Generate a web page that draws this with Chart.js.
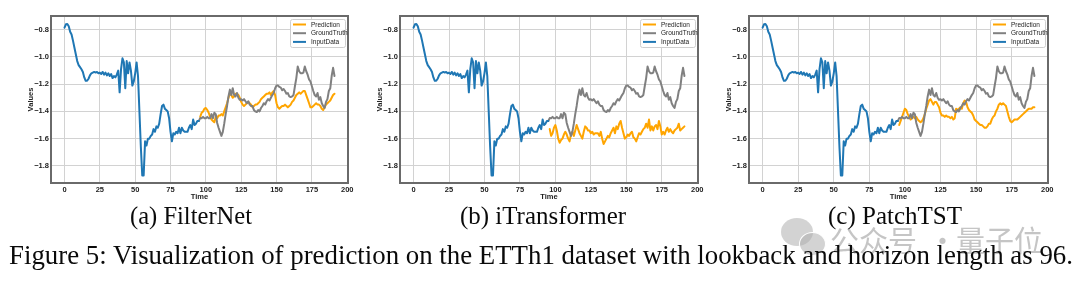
<!DOCTYPE html>
<html><head><meta charset="utf-8">
<script src="https://cdn.jsdelivr.net/npm/chart.js@4.4.1/dist/chart.umd.min.js"></script>
<style>
html,body{margin:0;padding:0;background:#fff;width:1080px;height:284px;overflow:hidden}
body{position:relative}
.pan{position:absolute;top:0}
.cap{position:absolute;left:0;top:0;font-family:"Liberation Serif","Times New Roman",serif;color:#0a0a0a;white-space:nowrap;transform-origin:0 0;line-height:1}
.wm{position:absolute;font-family:"Noto Sans CJK SC",sans-serif;color:rgba(140,140,140,0.5);line-height:1;white-space:nowrap}
.bub{position:absolute;border-radius:50%;background:rgba(175,175,175,0.55)}
</style></head><body>
<canvas id="c1" class="pan"></canvas>
<canvas id="c2" class="pan"></canvas>
<canvas id="c3" class="pan"></canvas>
<div class="bub" style="left:781px;top:218px;width:32px;height:28px"></div>
<div class="bub" style="left:799px;top:232px;width:25px;height:22px;border:1px solid #fff"></div>
<div class="wm" style="left:830px;top:225px;font-size:29px">公众号</div>
<div class="wm" style="left:928px;top:225px;font-size:29px">·</div>
<div class="wm" style="left:956px;top:225px;font-size:29px">量子位</div>
<div id="s0" class="cap"></div>
<div id="s1" class="cap"></div>
<div id="s2" class="cap"></div>
<div id="fc" class="cap"></div>
<script>
// ---------------- data ----------------
const inputData = [
 -0.785,-0.76,-0.758,-0.775,-0.815,-0.835,-0.88,-0.93,-0.98,-1.03,
 -1.06,-1.075,-1.09,-1.11,-1.15,-1.175,-1.175,-1.16,-1.135,-1.12,
 -1.115,-1.11,-1.115,-1.11,-1.12,-1.115,-1.125,-1.11,-1.13,-1.115,
 -1.135,-1.12,-1.14,-1.125,-1.155,-1.14,-1.15,-1.13,-1.10,-1.26,
 -1.09,-1.01,-1.04,-1.23,-1.03,-1.12,-1.04,-1.10,-1.21,-1.18,
 -1.12,-1.04,-1.14,-1.40,-1.66,-1.87,-1.87,-1.62,-1.65,-1.60,
 -1.60,-1.58,-1.57,-1.53,-1.55,-1.51,-1.52,-1.49,-1.42,-1.36,
 -1.35,-1.38,-1.39,-1.40,-1.45,-1.55,-1.62,-1.56,-1.57,-1.55,
 -1.56,-1.52,-1.56,-1.52,-1.54,-1.55,-1.55,-1.55,-1.52,-1.50,
 -1.53,-1.46,-1.50,-1.49,-1.47,-1.47
];
const groundTruth = [
 -1.449,-1.45,-1.44,-1.45,-1.45,-1.44,-1.45,-1.45,-1.42,-1.45,
 -1.41,-1.42,-1.485,-1.52,-1.55,-1.58,-1.55,-1.49,-1.42,-1.36,
 -1.29,-1.24,-1.28,-1.23,-1.28,-1.29,-1.265,-1.30,-1.315,-1.31,
 -1.32,-1.31,-1.325,-1.34,-1.325,-1.35,-1.36,-1.36,-1.39,-1.40,
 -1.405,-1.39,-1.40,-1.375,-1.36,-1.34,-1.35,-1.325,-1.31,-1.32,
 -1.30,-1.28,-1.265,-1.23,-1.21,-1.21,-1.22,-1.225,-1.245,-1.235,
 -1.25,-1.27,-1.265,-1.29,-1.295,-1.29,-1.28,-1.215,-1.155,-1.07,
 -1.105,-1.12,-1.12,-1.115,-1.07,-1.105,-1.13,-1.165,-1.18,-1.215,
 -1.25,-1.28,-1.29,-1.265,-1.315,-1.295,-1.34,-1.36,-1.375,-1.33,
 -1.31,-1.25,-1.23,-1.14,-1.08,-1.14
];
const predFilterNet = [
 -1.44,-1.41,-1.40,-1.38,-1.375,-1.39,-1.41,-1.44,-1.46,-1.47,
 -1.48,-1.44,-1.45,-1.43,-1.43,-1.42,-1.43,-1.40,-1.37,-1.34,
 -1.30,-1.27,-1.28,-1.30,-1.29,-1.27,-1.27,-1.28,-1.30,-1.33,
 -1.35,-1.36,-1.35,-1.34,-1.33,-1.34,-1.35,-1.37,-1.36,-1.35,
 -1.35,-1.34,-1.33,-1.31,-1.30,-1.29,-1.28,-1.27,-1.27,-1.26,
 -1.28,-1.26,-1.25,-1.28,-1.34,-1.37,-1.38,-1.37,-1.36,-1.36,
 -1.35,-1.36,-1.37,-1.36,-1.35,-1.33,-1.32,-1.30,-1.28,-1.27,
 -1.26,-1.27,-1.26,-1.25,-1.25,-1.28,-1.31,-1.34,-1.37,-1.37,
 -1.36,-1.35,-1.34,-1.35,-1.35,-1.36,-1.38,-1.39,-1.37,-1.35,
 -1.34,-1.33,-1.32,-1.30,-1.28,-1.27
];
const predITransformer = [
 -1.53,-1.58,-1.56,-1.52,-1.50,-1.54,-1.60,-1.63,-1.61,-1.60,
 -1.57,-1.55,-1.57,-1.60,-1.62,-1.57,-1.55,-1.58,-1.54,-1.50,
 -1.53,-1.56,-1.58,-1.60,-1.55,-1.51,-1.52,-1.54,-1.54,-1.56,
 -1.55,-1.57,-1.56,-1.56,-1.56,-1.58,-1.55,-1.60,-1.64,-1.62,
 -1.60,-1.58,-1.59,-1.56,-1.54,-1.52,-1.56,-1.51,-1.53,-1.49,
 -1.47,-1.52,-1.56,-1.60,-1.59,-1.57,-1.58,-1.56,-1.55,-1.59,
 -1.60,-1.62,-1.59,-1.56,-1.57,-1.55,-1.53,-1.52,-1.49,-1.52,
 -1.46,-1.54,-1.51,-1.54,-1.51,-1.50,-1.53,-1.47,-1.51,-1.57,
 -1.55,-1.57,-1.54,-1.52,-1.55,-1.53,-1.55,-1.56,-1.54,-1.53,
 -1.52,-1.49,-1.54,-1.53,-1.52,-1.51
];
const predPatchTST = [
 -1.50,-1.47,-1.44,-1.41,-1.38,-1.39,-1.42,-1.44,-1.46,-1.45,
 -1.44,-1.45,-1.44,-1.46,-1.47,-1.48,-1.47,-1.45,-1.42,-1.38,
 -1.35,-1.32,-1.31,-1.33,-1.35,-1.33,-1.33,-1.35,-1.37,-1.41,
 -1.43,-1.43,-1.44,-1.43,-1.44,-1.44,-1.45,-1.44,-1.46,-1.45,
 -1.38,-1.39,-1.38,-1.37,-1.38,-1.34,-1.32,-1.33,-1.37,-1.39,
 -1.40,-1.41,-1.43,-1.46,-1.47,-1.48,-1.49,-1.50,-1.50,-1.51,
 -1.52,-1.52,-1.51,-1.49,-1.49,-1.46,-1.44,-1.43,-1.40,-1.38,
 -1.35,-1.34,-1.35,-1.34,-1.35,-1.36,-1.40,-1.44,-1.47,-1.48,
 -1.47,-1.46,-1.46,-1.46,-1.45,-1.44,-1.43,-1.42,-1.41,-1.40,
 -1.39,-1.38,-1.38,-1.38,-1.37,-1.37
];
const xTicks = [0, 25, 50, 75, 100, 125, 150, 175, 200];
const yTicks = [-1.8, -1.6, -1.4, -1.2, -1.0, -0.8];
const seriesNames = ['Prediction', 'GroundTruth', 'InputData'];
const seriesColors = ['#FFA500', '#808080', '#1f77b4'];
const subCaptions = ['(a) FilterNet', '(b) iTransformer', '(c) PatchTST'];
const figureCaption = 'Figure 5: Visualization of prediction on the ETTh1 dataset with lookback and horizon length as 96.';
const horizonStart = 96;

// ---------------- layout ----------------
const panels = [
  {id:'c1', plotLeft:51,  plotRight:348, pred:predFilterNet},
  {id:'c2', plotLeft:400, plotRight:698, pred:predITransformer},
  {id:'c3', plotLeft:749, plotRight:1048, pred:predPatchTST}
];
const CANVAS_H = 205, AXIS_W = 51, RIGHT_PAD = 8;
const tickFont = {family:'"Liberation Sans", Arial, sans-serif', size:7.5, weight:'bold'};
const fmtY = v => (v < 0 ? '\u2212' : '') + Math.abs(v).toFixed(1);

const boxPlugin = {
  id:'boxAndLegend',
  afterDatasetsDraw(chart){
    const {ctx, chartArea:a} = chart;
    ctx.save();
    ctx.strokeStyle = '#6a6a6a'; ctx.lineWidth = 2;
    ctx.strokeRect(a.left, a.top, a.right - a.left, a.bottom - a.top);
    ctx.restore();
  },
  afterDraw(chart){
    const {ctx, chartArea:a} = chart;
    const w = 55, h = 28;
    const x = a.right - 3 - w, y = a.top + 3;
    ctx.save();
    ctx.fillStyle = 'rgba(255,255,255,0.9)';
    ctx.strokeStyle = '#cfcfcf'; ctx.lineWidth = 1;
    ctx.beginPath();
    if (ctx.roundRect) ctx.roundRect(x + 0.5, y + 0.5, w, h, 2); else ctx.rect(x + 0.5, y + 0.5, w, h);
    ctx.fill(); ctx.stroke();
    ctx.font = '6.5px "Liberation Sans", Arial, sans-serif';
    ctx.textBaseline = 'middle';
    seriesNames.forEach((name, i) => {
      const yy = y + 5.5 + i * 8.7;
      ctx.strokeStyle = seriesColors[i]; ctx.lineWidth = 2;
      ctx.beginPath(); ctx.moveTo(x + 3, yy); ctx.lineTo(x + 16, yy); ctx.stroke();
      ctx.fillStyle = '#222';
      ctx.fillText(name, x + 21, yy + 0.3);
    });
    ctx.restore();
  }
};

panels.forEach(p => {
  const cv = document.getElementById(p.id);
  const left = p.plotLeft - AXIS_W;
  const width = p.plotRight - left + RIGHT_PAD;
  cv.style.left = left + 'px';
  cv.width = width; cv.height = CANVAS_H;
  cv.style.width = width + 'px'; cv.style.height = CANVAS_H + 'px';

  const inputPts = inputData.map((v, i) => ({x:i, y:v}));
  const gtPts = [{x:horizonStart - 1, y:inputData[inputData.length - 1]}]
    .concat(groundTruth.map((v, i) => ({x:horizonStart + i, y:v})));
  const predPts = p.pred.map((v, i) => ({x:horizonStart + i, y:v}));

  new Chart(cv, {
    type:'line',
    data:{datasets:[
      {label:seriesNames[0], data:predPts, borderColor:seriesColors[0], order:3},
      {label:seriesNames[1], data:gtPts, borderColor:seriesColors[1], order:2},
      {label:seriesNames[2], data:inputPts, borderColor:seriesColors[2], order:1}
    ]},
    options:{
      responsive:false, animation:false, devicePixelRatio:1,
      layout:{padding:{top:16, right:RIGHT_PAD, left:0, bottom:0}},
      plugins:{legend:{display:false}, tooltip:{enabled:false}},
      elements:{line:{tension:0, borderWidth:2, fill:false, borderJoinStyle:'round', borderCapStyle:'round'}, point:{radius:0}},
      scales:{
        x:{
          type:'linear', min:-9.55, max:200.55,
          afterBuildTicks(s){ s.ticks = xTicks.map(v => ({value:v})); },
          afterFit(s){ s.height = CANVAS_H - 183; },
          grid:{color:'#d2d2d2', lineWidth:1, drawTicks:false},
          border:{display:false},
          ticks:{font:tickFont, color:'#222', padding:2, maxRotation:0, autoSkip:false, callback:v => String(v)},
          title:{display:true, text:'Time', font:tickFont, color:'#222', padding:{top:0, bottom:3.5}}
        },
        y:{
          type:'linear', min:-1.926, max:-0.699,
          afterBuildTicks(s){ s.ticks = yTicks.map(v => ({value:v})); },
          afterFit(s){ s.width = AXIS_W; },
          grid:{color:'#d2d2d2', lineWidth:1, drawTicks:false},
          border:{display:false},
          ticks:{font:tickFont, color:'#222', padding:2, autoSkip:false, callback:fmtY},
          title:{display:true, text:'Values', font:tickFont, color:'#222', padding:{top:26.3, bottom:0}}
        }
      }
    },
    plugins:[boxPlugin]
  });
});

// ---------------- captions ----------------
function placeText(el, text, fontSize, x0, x1, baseline){
  el.textContent = text;
  el.style.fontSize = fontSize + 'px';
  const w = el.getBoundingClientRect().width;
  const sx = (x1 - x0) / w;
  const top = baseline - fontSize * 0.84;
  el.style.transform = 'translate(' + x0 + 'px,' + top + 'px) scaleX(' + sx + ')';
}
const subSpans = [[130, 252], [460, 626], [828, 962]];
subCaptions.forEach((t, i) => placeText(document.getElementById('s' + i), t, 26, subSpans[i][0], subSpans[i][1], 225));
placeText(document.getElementById('fc'), figureCaption, 27, 9, 1073, 264.5);
</script>
</body></html>
